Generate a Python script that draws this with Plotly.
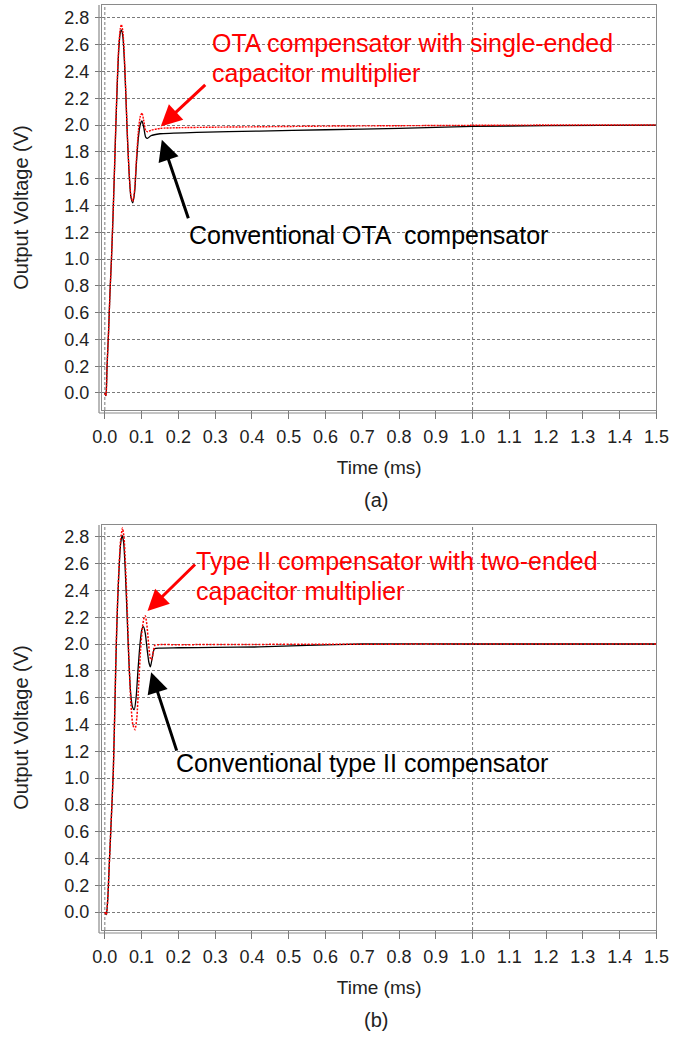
import plotly.graph_objects as go

# ---------------- data ----------------
# (a) OTA compensators
t_a_red = [0, 0.003, 0.006, 0.010, 0.014, 0.018, 0.022, 0.026, 0.030, 0.034, 0.038, 0.042, 0.045,
           0.049, 0.053, 0.057, 0.061, 0.066, 0.071, 0.076, 0.081, 0.086, 0.091, 0.096, 0.101,
           0.106, 0.111, 0.116, 0.125, 0.15, 0.2, 0.3, 0.42, 0.6, 0.8, 1.0, 1.2, 1.5]
v_a_red = [0.0, -0.02, 0.2, 0.45, 0.75, 1.0, 1.3, 1.65, 2.02, 2.35, 2.6, 2.72, 2.75,
           2.7, 2.52, 2.25, 1.95, 1.65, 1.47, 1.43, 1.52, 1.75, 1.95, 2.06, 2.09,
           2.03, 1.96, 1.95, 1.96, 1.975, 1.98, 1.984, 1.987, 1.992, 1.995, 1.998, 2.0, 2.0]

t_a_blk = [0, 0.003, 0.006, 0.010, 0.014, 0.018, 0.022, 0.026, 0.030, 0.034, 0.038, 0.042, 0.045,
           0.049, 0.053, 0.057, 0.061, 0.066, 0.071, 0.076, 0.081, 0.086, 0.091, 0.096, 0.101,
           0.106, 0.111, 0.116, 0.125, 0.15, 0.25, 0.42, 0.6, 0.8, 1.0, 1.2, 1.5]
v_a_blk = [0.0, -0.02, 0.2, 0.45, 0.75, 1.0, 1.3, 1.64, 2.0, 2.32, 2.57, 2.69, 2.71,
           2.66, 2.49, 2.23, 1.93, 1.64, 1.46, 1.42, 1.5, 1.72, 1.9, 2.0, 2.03,
           1.98, 1.91, 1.90, 1.92, 1.935, 1.945, 1.955, 1.965, 1.975, 1.99, 1.995, 2.0]

# (b) type II compensators
t_b_red = [0, 0.004, 0.008, 0.012, 0.016, 0.020, 0.023, 0.027, 0.031, 0.035, 0.039, 0.043, 0.048,
           0.052, 0.056, 0.061, 0.066, 0.071, 0.076, 0.082, 0.087, 0.092, 0.097, 0.102, 0.107,
           0.110, 0.114, 0.119, 0.123, 0.127, 0.131, 0.136, 0.145, 0.2, 0.4, 0.6, 1.0, 1.5]
v_b_red = [0.0, -0.02, 0.1, 0.35, 0.6, 0.85, 1.05, 1.5, 2.0, 2.35, 2.6, 2.78, 2.865,
           2.8, 2.6, 2.25, 1.85, 1.55, 1.4, 1.36, 1.45, 1.7, 1.95, 2.12, 2.2,
           2.21, 2.15, 2.0, 1.9, 1.88, 1.93, 1.99, 1.995, 1.995, 1.997, 1.998, 2.0, 2.0]

t_b_blk = [0, 0.004, 0.008, 0.012, 0.016, 0.020, 0.023, 0.027, 0.031, 0.035, 0.039, 0.043, 0.047,
           0.051, 0.055, 0.060, 0.065, 0.070, 0.075, 0.080, 0.085, 0.090, 0.095, 0.100, 0.105,
           0.110, 0.115, 0.120, 0.124, 0.129, 0.135, 0.15, 0.2, 0.3, 0.42, 0.55, 0.7, 1.0, 1.5]
v_b_blk = [0.0, -0.02, 0.1, 0.35, 0.6, 0.85, 1.05, 1.5, 1.98, 2.33, 2.58, 2.75, 2.81,
           2.76, 2.58, 2.25, 1.9, 1.64, 1.53, 1.51, 1.6, 1.8, 1.98, 2.1, 2.13,
           2.08, 1.96, 1.86, 1.83, 1.9, 1.965, 1.97, 1.972, 1.975, 1.978, 1.99, 2.0, 2.0, 2.0]

x_ticks = [round(0.1 * i, 1) for i in range(16)]
x_ticktext = [f"{v:.1f}" for v in x_ticks]
y_ticks = [round(0.2 * i, 1) for i in range(15)]
y_ticktext = [f"{v:.1f}" for v in y_ticks]
x_grid = [0.0, 1.0]

# ---------------- figure ----------------
W, H = 682, 1038
FONT = "Arial, Liberation Sans, sans-serif"

fig = go.Figure()

def px_x(p):
    return p / W

def px_y(p):
    return 1 - p / H

# plot boxes in pixels: (left, right, top, bottom)
boxes = {"a": (96, 669, 5, 410), "b": (96, 669, 525, 930)}
yranges = {"a": [-0.127, 2.896], "b": [-0.134, 2.888]}

traces = [
    ("a", t_a_blk, v_a_blk, "black", "solid", 1.3, "Conventional OTA compensator"),
    ("a", t_a_red, v_a_red, "#ff0000", "2px,1px", 1.4, "OTA compensator with single-ended capacitor multiplier"),
    ("b", t_b_blk, v_b_blk, "black", "solid", 1.3, "Conventional type II compensator"),
    ("b", t_b_red, v_b_red, "#ff0000", "2px,1.5px", 1.5, "Type II compensator with two-ended capacitor multiplier"),
]
for key, t, v, col, dash, w, name in traces:
    xa, ya = ("x", "y") if key == "a" else ("x2", "y2")
    fig.add_trace(go.Scatter(x=t, y=v, mode="lines", name=name, xaxis=xa, yaxis=ya,
                             line=dict(color=col, width=w, dash=dash, shape="spline", smoothing=0.6),
                             showlegend=False))

axis_common = dict(showline=True, mirror=True, linecolor="#8a8a8a", linewidth=1.2,
                   ticks="outside", tickcolor="#777", zeroline=False,
                   tickfont=dict(family=FONT, size=18, color="#222"))

for key, xname, yname in (("a", "xaxis", "yaxis"), ("b", "xaxis2", "yaxis2")):
    l, r, t, b = boxes[key]
    xdict = dict(axis_common, domain=[px_x(l), px_x(r)], range=[-0.008, 1.5],
                 tickvals=x_ticks, ticktext=x_ticktext, showgrid=False, ticklen=8,
                 ticklabelstandoff=2,
                 title=dict(text="Time (ms)", font=dict(family=FONT, size=19, color="#222"), standoff=14))
    ydict = dict(axis_common, domain=[px_y(b), px_y(t)], range=yranges[key],
                 tickvals=y_ticks, ticktext=y_ticktext, showgrid=True, ticklen=6,
                 ticklabelstandoff=2,
                 gridcolor="#7a7a7a", gridwidth=1, griddash="3px,2px",
                 title=dict(text="Output Voltage (V)", font=dict(family=FONT, size=20, color="#222"), standoff=30))
    if key == "b":
        xdict["anchor"] = "y2"
        ydict["anchor"] = "x2"
    fig.layout[xname] = xdict
    fig.layout[yname] = ydict

shapes = []
for key, xr, yr in (("a", "x", "y domain"), ("b", "x2", "y2 domain")):
    for gx in x_grid:
        shapes.append(dict(type="line", xref=xr, yref=yr, x0=gx, x1=gx, y0=0, y1=1,
                           line=dict(color="#7a7a7a", width=1, dash="3px,2px"), layer="below"))
    l, r, t, b = boxes[key]
    # outer frame lines (double border left/bottom)
    shapes.append(dict(type="line", xref="paper", yref="paper", x0=px_x(93), x1=px_x(93),
                       y0=px_y(b + 3), y1=px_y(t), line=dict(color="#8a8a8a", width=1.2)))
    shapes.append(dict(type="line", xref="paper", yref="paper", x0=px_x(93), x1=px_x(r),
                       y0=px_y(b + 3), y1=px_y(b + 3), line=dict(color="#8a8a8a", width=1.2)))
fig.update_layout(shapes=shapes)

ann = []
def text(s, xl, yc, col, size=25):
    ann.append(dict(text=s, xref="paper", yref="paper", x=px_x(xl), y=px_y(yc),
                    xanchor="left", yanchor="middle", showarrow=False,
                    font=dict(family=FONT, size=size, color=col)))

text("OTA compensator with single-ended", 208, 43, "#ff0000")
text("capacitor multiplier", 208, 73, "#ff0000")
text("Conventional OTA  compensator", 184, 235, "black")
text("Type II compensator with two-ended", 191, 561, "#ff0000")
text("capacitor multiplier", 191, 591, "#ff0000")
text("Conventional type II compensator", 171, 763, "black")

def arrow(xr, yr, hx, hy, ax, ay, col):
    ann.append(dict(text="", xref=xr, yref=yr, x=hx, y=hy, ax=ax, ay=ay,
                    showarrow=True, arrowhead=2, arrowsize=1.4, arrowwidth=3, arrowcolor=col,
                    standoff=0, startstandoff=0))

arrow("x", "y", 0.152, 1.99, 46, -43, "#ff0000")
arrow("x", "y", 0.155, 1.89, 27, 80, "black")
arrow("x2", "y2", 0.116, 2.246, 49, -48, "#ff0000")
arrow("x2", "y2", 0.126, 1.79, 26, 80, "black")

for lab, yc in (("(a)", 500), ("(b)", 1020)):
    ann.append(dict(text=lab, xref="paper", yref="paper", x=px_x(379), y=px_y(yc),
                    xanchor="center", yanchor="middle", showarrow=False,
                    font=dict(family=FONT, size=20, color="#222")))

fig.update_layout(annotations=ann, width=W, height=H,
                  margin=dict(l=0, r=0, t=0, b=0),
                  paper_bgcolor="white", plot_bgcolor="white",
                  font=dict(family=FONT, color="#222"))

fig.write_html("out.html")
